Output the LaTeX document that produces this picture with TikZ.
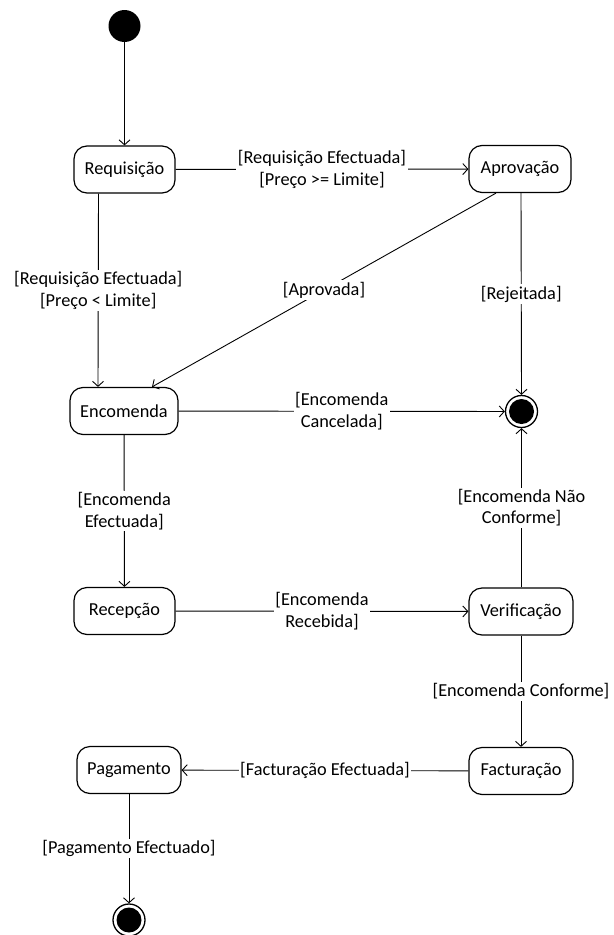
\documentclass[tikz,border=0pt]{standalone}
\usepackage{fontspec}
\setmainfont{Carlito}
\usetikzlibrary{arrows.meta,calc}
\begin{document}
\begin{tikzpicture}[x=1bp,y=-1bp,
  every node/.style={font=\fontsize{18.3bp}{21.7bp}\selectfont},
  state/.style={draw,line width=1.2bp,rounded corners=13bp,minimum height=47bp,inner sep=0pt},
  initial/.style={circle,fill=black,minimum size=32bp,inner sep=0pt},
  final/.style={circle,draw,line width=1.3bp,fill=white,minimum size=32bp,inner sep=0pt,
    path picture={\fill[black] (path picture bounding box.center) circle (12.5bp);}},
  arr/.style={line width=0.9bp,-{Straight Barb[length=5bp,width=11bp]}},
  lbl/.style={midway,fill=white,inner sep=1.5bp,align=center}
]
\useasboundingbox (0,0) rectangle (614,935);

% states
\node[initial] (start) at (124.5,26) {};
\node[state,minimum width=101bp] (req) at (124.5,169.5) {Requisição};
\node[state,minimum width=102bp] (apr) at (520,169) {Aprovação};
\node[state,minimum width=108bp] (enc) at (124,411) {Encomenda};
\node[final] (end1) at (521.5,411.5) {};
\node[state,minimum width=101bp] (rec) at (124.5,611) {Recepção};
\node[state,minimum width=104bp] (ver) at (521,611.5) {Verificação};
\node[state,minimum width=104bp] (fac) at (521,771) {Facturação};
\node[state,minimum width=104bp] (pag) at (129,770) {Pagamento};
\node[final] (end2) at (129,920) {};

% transitions
\draw[arr] (start) -- (req);
\draw[arr] (req) -- node[lbl] {[Requisição Efectuada]\\[0pt][Preço >= Limite]} (apr);
\draw[arr] ([xshift=-26bp]req.south) -- node[lbl] {[Requisição Efectuada]\\[0pt][Preço < Limite]} ([xshift=-26bp]enc.north);
\draw[arr] ([xshift=-24bp]apr.south) -- node[lbl] {[Aprovada]} ([xshift=28bp]enc.north);
\draw[arr] ([xshift=1bp]apr.south) -- node[lbl] {[Rejeitada]} (end1.north);
\draw[arr] (enc) -- node[lbl] {[Encomenda\\[0pt]Cancelada]} (end1);
\draw[arr] (enc) -- node[lbl] {[Encomenda\\[0pt]Efectuada]} (rec);
\draw[arr] (rec) -- node[lbl] {[Encomenda\\[0pt]Recebida]} (ver);
\draw[arr] ([xshift=0.5bp]ver.north) -- node[lbl] {[Encomenda Não\\[0pt]Conforme]} (end1.south);
\draw[arr] (ver) -- node[lbl] {[Encomenda Conforme]} (fac);
\draw[arr] (fac) -- node[lbl] {[Facturação Efectuada]} (pag);
\draw[arr] (pag) -- node[lbl] {[Pagamento Efectuado]} (end2);
\end{tikzpicture}
\end{document}
